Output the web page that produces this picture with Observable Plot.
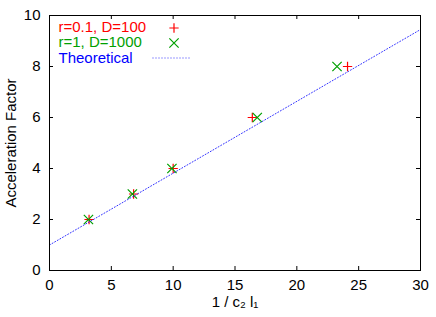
<!DOCTYPE html>
<html><head><meta charset="utf-8">
<script src="https://cdn.jsdelivr.net/npm/d3@7"></script>
<script src="https://cdn.jsdelivr.net/npm/@observablehq/plot@0.6"></script>
<style>body{margin:0;background:#fff}</style>
</head><body><div id="chart"></div>
<script>
const seriesAx = [3.2, 6.8, 10.0, 16.4, 24.1];
const seriesAy = [2, 3, 4, 6, 8];
const seriesBx = [3.15, 6.7, 9.9, 16.8, 23.25];
const seriesBy = [2, 3, 4, 6, 8];
const theoryX = [0, 30];
const theoryY = [1.0, 9.45];
const xTicks = [0, 5, 10, 15, 20, 25, 30];
const yTicks = [0, 2, 4, 6, 8, 10];
const legendLabels = ["r=0.1, D=100", "r=1, D=1000", "Theoretical"];
const xLabel = "1 / c₂ l₁";
const yLabel = "Acceleration Factor";

const W = 436, H = 317, mT = 15, mR = 16, mB = 47, mL = 49;
const pW = W - mL - mR, pH = H - mT - mB;
const RED = "#ff0000", GREEN = "#00a000", BLUE = "#0000ff";

const A = seriesAx.map((x, i) => ({x, y: seriesAy[i]}));
const B = seriesBx.map((x, i) => ({x, y: seriesBy[i]}));
const T = theoryX.map((x, i) => ({x, y: theoryY[i]}));

const lineSym = {draw(ctx) { ctx.moveTo(-19, 0); ctx.lineTo(19, 0); }};
const tk = 4;
const fs = 15;
const rPlus = 3.1, rTimes = 4.3;

const chart = Plot.plot({
  width: W, height: H,
  marginTop: mT, marginRight: mR, marginBottom: mB, marginLeft: mL,
  style: {fontFamily: "'Liberation Sans', Arial, sans-serif", fontSize: fs + "px", color: "#000", background: "#fff"},
  x: {domain: [0, 30]},
  y: {domain: [0, 10]},
  marks: [
    Plot.dot(A, {x: "x", y: "y", symbol: "plus", r: rPlus, stroke: RED, strokeWidth: 1.2}),
    Plot.dot(B, {x: "x", y: "y", symbol: "times", r: rTimes, stroke: GREEN, strokeWidth: 1.2}),
    Plot.line(T, {x: "x", y: "y", stroke: BLUE, strokeWidth: 1, strokeDasharray: "1,2", strokeOpacity: 0.8}),
    Plot.tickX(xTicks, {x: d => d, insetTop: pH - tk, stroke: "#000"}),
    Plot.tickX(xTicks, {x: d => d, insetBottom: pH - tk, stroke: "#000"}),
    Plot.tickY(yTicks, {y: d => d, insetRight: pW - tk, stroke: "#000"}),
    Plot.tickY(yTicks, {y: d => d, insetLeft: pW - tk, stroke: "#000"}),
    Plot.frame({stroke: "#000", strokeWidth: 1}),
    Plot.axisX({ticks: xTicks, tickSize: 0, tickPadding: 9, fontSize: fs, label: xLabel, labelAnchor: "center", labelArrow: "none", labelOffset: 36}),
    Plot.axisY({ticks: yTicks, tickSize: 0, tickPadding: 9, fontSize: fs, label: yLabel, labelAnchor: "center", labelArrow: "none", labelOffset: 44}),
    Plot.text([legendLabels[0]], {text: d => d, frameAnchor: "top-left", dx: 9, dy: 12, textAnchor: "start", lineAnchor: "middle", fontSize: fs, fill: RED}),
    Plot.text([legendLabels[1]], {text: d => d, frameAnchor: "top-left", dx: 9, dy: 27, textAnchor: "start", lineAnchor: "middle", fontSize: fs, fill: GREEN}),
    Plot.text([legendLabels[2]], {text: d => d, frameAnchor: "top-left", dx: 9, dy: 42.5, textAnchor: "start", lineAnchor: "middle", fontSize: fs, fill: BLUE}),
    Plot.dot([0], {frameAnchor: "top-left", dx: 124.5, dy: 12.5, symbol: "plus", r: rPlus, stroke: RED, strokeWidth: 1.2}),
    Plot.dot([0], {frameAnchor: "top-left", dx: 124.5, dy: 27.5, symbol: "times", r: rTimes, stroke: GREEN, strokeWidth: 1.2}),
    Plot.dot([0], {frameAnchor: "top-left", dx: 122, dy: 42.5, symbol: lineSym, r: 4.5, stroke: BLUE, strokeWidth: 1, strokeDasharray: "1,2", strokeOpacity: 0.8})
  ]
});
document.getElementById("chart").appendChild(chart);
</script>
</body></html>
